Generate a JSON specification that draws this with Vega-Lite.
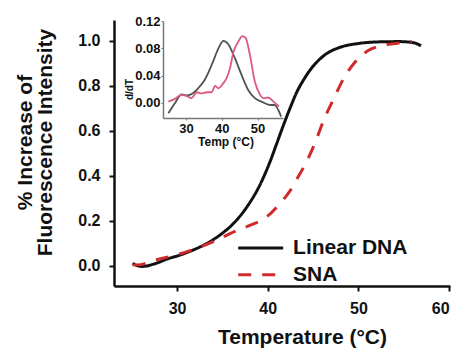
{
  "$schema": "https://vega.github.io/schema/vega-lite/v6.json",
  "width": 336,
  "height": 266,
  "autosize": {"type": "none"},
  "padding": {"left": 114, "top": 20, "right": 8, "bottom": 66},
  "background": "white",
  "config": {
    "view": {"stroke": null},
    "font": "Liberation Sans",
    "axis": {"grid": false, "labelFont": "Liberation Sans", "titleFont": "Liberation Sans", "labelFontWeight": "bold", "titleFontWeight": "bold", "labelColor": "#111", "titleColor": "#111"}
  },
  "datasets": {
    "main": [
      {"series": "Linear DNA", "T": 25.1, "v": 0.012},
      {"series": "Linear DNA", "T": 25.6, "v": 0.002},
      {"series": "Linear DNA", "T": 26.2, "v": -0.002},
      {"series": "Linear DNA", "T": 27.4, "v": 0.008},
      {"series": "Linear DNA", "T": 29.2, "v": 0.035},
      {"series": "Linear DNA", "T": 30.0, "v": 0.044},
      {"series": "Linear DNA", "T": 31.1, "v": 0.060},
      {"series": "Linear DNA", "T": 32.9, "v": 0.092},
      {"series": "Linear DNA", "T": 34.75, "v": 0.138},
      {"series": "Linear DNA", "T": 36.2, "v": 0.188},
      {"series": "Linear DNA", "T": 37.7, "v": 0.262},
      {"series": "Linear DNA", "T": 39.2, "v": 0.365},
      {"series": "Linear DNA", "T": 40.3, "v": 0.468},
      {"series": "Linear DNA", "T": 41.0, "v": 0.545},
      {"series": "Linear DNA", "T": 41.7, "v": 0.622},
      {"series": "Linear DNA", "T": 42.5, "v": 0.705},
      {"series": "Linear DNA", "T": 43.2, "v": 0.772},
      {"series": "Linear DNA", "T": 44.0, "v": 0.830},
      {"series": "Linear DNA", "T": 44.7, "v": 0.872},
      {"series": "Linear DNA", "T": 46.2, "v": 0.935},
      {"series": "Linear DNA", "T": 48.0, "v": 0.972},
      {"series": "Linear DNA", "T": 49.9, "v": 0.988},
      {"series": "Linear DNA", "T": 52.4, "v": 0.996},
      {"series": "Linear DNA", "T": 54.6, "v": 0.997},
      {"series": "Linear DNA", "T": 56.1, "v": 0.992},
      {"series": "Linear DNA", "T": 56.9, "v": 0.978},
      {"series": "SNA", "T": 25.1, "v": 0.004},
      {"series": "SNA", "T": 26.0, "v": 0.006},
      {"series": "SNA", "T": 27.4, "v": 0.024},
      {"series": "SNA", "T": 29.2, "v": 0.042},
      {"series": "SNA", "T": 31.1, "v": 0.064},
      {"series": "SNA", "T": 34.0, "v": 0.108},
      {"series": "SNA", "T": 35.9, "v": 0.145},
      {"series": "SNA", "T": 37.7, "v": 0.175},
      {"series": "SNA", "T": 39.9, "v": 0.219},
      {"series": "SNA", "T": 41.4, "v": 0.280},
      {"series": "SNA", "T": 42.4, "v": 0.330},
      {"series": "SNA", "T": 43.2, "v": 0.385},
      {"series": "SNA", "T": 44.3, "v": 0.465},
      {"series": "SNA", "T": 45.2, "v": 0.545},
      {"series": "SNA", "T": 46.2, "v": 0.650},
      {"series": "SNA", "T": 47.3, "v": 0.745},
      {"series": "SNA", "T": 48.4, "v": 0.835},
      {"series": "SNA", "T": 49.5, "v": 0.900},
      {"series": "SNA", "T": 51.0, "v": 0.955},
      {"series": "SNA", "T": 52.4, "v": 0.978},
      {"series": "SNA", "T": 54.3, "v": 0.990},
      {"series": "SNA", "T": 55.9, "v": 0.997}
    ],
    "inset": [
      {"series": "Linear DNA", "T": 25.10, "v": -0.015},
      {"series": "Linear DNA", "T": 26.96, "v": 0.000},
      {"series": "Linear DNA", "T": 28.81, "v": 0.0127},
      {"series": "Linear DNA", "T": 30.18, "v": 0.011},
      {"series": "Linear DNA", "T": 31.55, "v": 0.013},
      {"series": "Linear DNA", "T": 33.41, "v": 0.0215},
      {"series": "Linear DNA", "T": 35.27, "v": 0.034},
      {"series": "Linear DNA", "T": 37.22, "v": 0.056},
      {"series": "Linear DNA", "T": 39.08, "v": 0.080},
      {"series": "Linear DNA", "T": 40.45, "v": 0.091},
      {"series": "Linear DNA", "T": 41.82, "v": 0.086},
      {"series": "Linear DNA", "T": 43.67, "v": 0.0655},
      {"series": "Linear DNA", "T": 45.53, "v": 0.041},
      {"series": "Linear DNA", "T": 47.39, "v": 0.019},
      {"series": "Linear DNA", "T": 49.25, "v": 0.007},
      {"series": "Linear DNA", "T": 51.10, "v": 0.002},
      {"series": "Linear DNA", "T": 53.45, "v": -0.003},
      {"series": "Linear DNA", "T": 54.72, "v": -0.003},
      {"series": "Linear DNA", "T": 56.58, "v": -0.020},
      {"series": "SNA", "T": 25.10, "v": 0.002},
      {"series": "SNA", "T": 26.96, "v": 0.006},
      {"series": "SNA", "T": 28.81, "v": 0.012},
      {"series": "SNA", "T": 30.67, "v": 0.009},
      {"series": "SNA", "T": 31.55, "v": 0.007},
      {"series": "SNA", "T": 33.02, "v": 0.0157},
      {"series": "SNA", "T": 34.39, "v": 0.014},
      {"series": "SNA", "T": 35.75, "v": 0.0157},
      {"series": "SNA", "T": 37.22, "v": 0.0157},
      {"series": "SNA", "T": 38.10, "v": 0.025},
      {"series": "SNA", "T": 39.08, "v": 0.0215},
      {"series": "SNA", "T": 40.45, "v": 0.029},
      {"series": "SNA", "T": 41.33, "v": 0.036},
      {"series": "SNA", "T": 42.31, "v": 0.051},
      {"series": "SNA", "T": 43.19, "v": 0.073},
      {"series": "SNA", "T": 44.65, "v": 0.090},
      {"series": "SNA", "T": 45.73, "v": 0.098},
      {"series": "SNA", "T": 46.70, "v": 0.095},
      {"series": "SNA", "T": 47.88, "v": 0.070},
      {"series": "SNA", "T": 49.25, "v": 0.031},
      {"series": "SNA", "T": 50.71, "v": 0.012},
      {"series": "SNA", "T": 51.59, "v": 0.007},
      {"series": "SNA", "T": 52.96, "v": 0.008},
      {"series": "SNA", "T": 54.42, "v": 0.002},
      {"series": "SNA", "T": 55.98, "v": -0.005}
    ]
  },
  "layer": [
    {
      "data": {"name": "main"},
      "mark": {"type": "line", "strokeWidth": 3, "interpolate": "monotone"},
      "encoding": {
        "x": {"field": "T", "type": "quantitative",
          "scale": {"domain": [23.05, 60.1], "nice": false, "zero": false},
          "axis": {"orient": "bottom", "values": [30, 40, 50, 60], "labelFontSize": 16, "tickSize": 5, "tickWidth": 2, "tickColor": "#111", "domainColor": "#111", "domainWidth": 2.5, "labelPadding": 9,
            "title": "Temperature (°C)", "titleFontSize": 21, "titleX": 188, "titleY": 57, "titleBaseline": "alphabetic", "titleAlign": "center"}},
        "y": {"field": "v", "type": "quantitative",
          "scale": {"domain": [-0.089, 1.093], "nice": false, "zero": false},
          "axis": {"orient": "left", "values": [0, 0.2, 0.4, 0.6, 0.8, 1.0], "format": ".1f", "labelFontSize": 16, "tickSize": 5, "tickWidth": 2, "tickColor": "#111", "domainColor": "#111", "domainWidth": 2.5, "labelPadding": 9,
            "title": ["% Increase of", "Fluorescence Intensity"], "titleFontSize": 21, "titleLineHeight": 20, "titleAngle": -90, "titleX": -83, "titleY": 122, "titleBaseline": "alphabetic", "titleAlign": "center"}},
        "color": {"field": "series", "type": "nominal",
          "scale": {"domain": ["Linear DNA", "SNA"], "range": ["#111111", "#d02a2a"]},
          "legend": {"title": null, "orient": "none", "legendX": 122.7, "legendY": 215, "padding": 0, "symbolType": "stroke", "symbolSize": 2025, "symbolStrokeWidth": 3, "clipHeight": 26, "rowPadding": 0.7, "labelFontSize": 21, "labelFontWeight": "bold", "labelFont": "Liberation Sans", "labelColor": "#111", "labelOffset": 8.4}},
        "strokeDash": {"field": "series", "type": "nominal",
          "scale": {"domain": ["Linear DNA", "SNA"], "range": [[1, 0], [13, 11]]},
          "legend": {"title": null, "orient": "none", "legendX": 122.7, "legendY": 215, "padding": 0, "symbolType": "stroke", "symbolSize": 2025, "symbolStrokeWidth": 3, "clipHeight": 26, "rowPadding": 0.7, "labelFontSize": 21, "labelFontWeight": "bold", "labelFont": "Liberation Sans", "labelColor": "#111", "labelOffset": 8.4}}
      }
    },
    {
      "data": {"name": "inset"},
      "mark": {"type": "line", "strokeWidth": 1.8, "interpolate": "monotone"},
      "encoding": {
        "x": {"field": "T", "type": "quantitative",
          "scale": {"domain": [23.6, 57.1], "range": [49, 169], "nice": false, "zero": false},
          "axis": {"orient": "bottom", "offset": -168, "values": [30, 40, 50], "labelFontSize": 13, "tickSize": 2, "tickColor": "#777", "domainColor": "#777", "domainWidth": 1.5, "labelPadding": 2,
            "title": "Temp (°C)", "titleFontSize": 12, "titleX": 111.5, "titleY": 27, "titleBaseline": "alphabetic", "titleAlign": "center"}},
        "y": {"field": "v", "type": "quantitative",
          "scale": {"domain": [-0.022, 0.12], "range": [98, 1], "nice": false, "zero": false},
          "axis": {"orient": "left", "offset": -49, "values": [0, 0.04, 0.08, 0.12], "format": ".2f", "labelFontSize": 13, "tickSize": 2, "tickColor": "#777", "domainColor": "#777", "domainWidth": 1.5, "labelPadding": 1,
            "title": "d/dT", "titleFontSize": 10, "titleAngle": -90, "titleX": -31, "titleY": 69, "titleBaseline": "alphabetic", "titleAlign": "center"}},
        "color": {"field": "series", "type": "nominal",
          "scale": {"domain": ["Linear DNA", "SNA"], "range": ["#4f5555", "#dc5a7c"]},
          "legend": null}
      }
    }
  ],
  "resolve": {
    "scale": {"x": "independent", "y": "independent", "color": "independent", "strokeDash": "independent"},
    "axis": {"x": "independent", "y": "independent"}
  }
}
